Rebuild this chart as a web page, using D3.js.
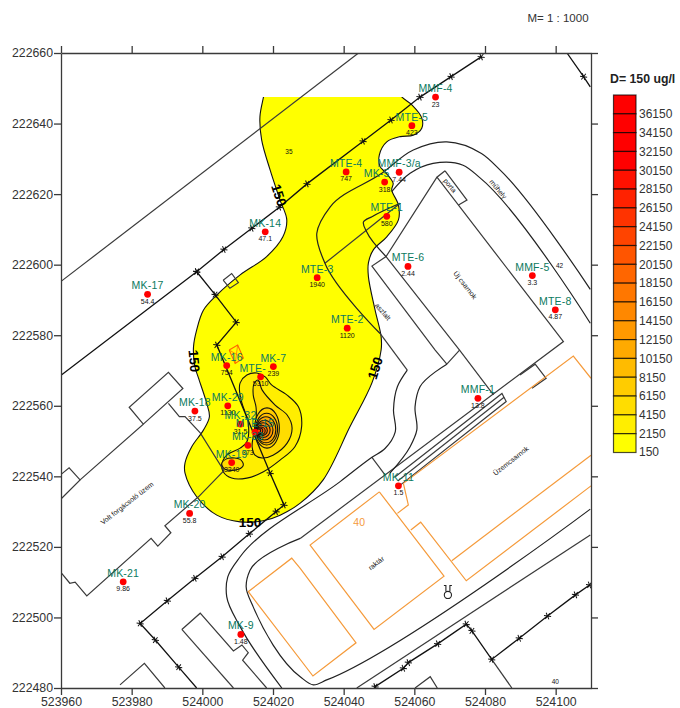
<!DOCTYPE html>
<html>
<head>
<meta charset="utf-8">
<script src="https://cdn.jsdelivr.net/npm/d3@7"></script>
<style>
  html, body { margin: 0; background: #fff; }
  svg { display: block; font-family: "Liberation Sans", Arial, sans-serif; }
</style>
</head>
<body>
<div id="chart"></div>
<script>
/* Map data: all geometry in metres east / north of the SW corner */
const E0 = 523960, N0 = 222480;

const xTicks = [523960, 523980, 524000, 524020, 524040, 524060, 524080, 524100];
const yTicks = [222480, 222500, 222520, 222540, 222560, 222580, 222600, 222620, 222640, 222660];

/* Legend levels, ug/l */
const levels = [36150, 34150, 32150, 30150, 28150, 26150, 24150, 22150, 20150, 18150,
                16150, 14150, 12150, 10150, 8150, 6150, 4150, 2150, 150];

/* Wells: name, easting, northing, measured value */
const wellNames = ['MK-17','MK-14','MTE-3','MTE-2','MTE-4','MTE-5','MMF-4','MMF-3/a','MK-5','MTE-1','MTE-6','MMF-5','MTE-8',
  'MK-16','MK-7','MTE-','MK-29','MK-18','MK-32','MTE-15','MK-33','MK-19','MK-20','MK-21','MK-9','MK-11','MMF-1'];
const wellE = [523984.5,524017.8,524032.5,524041.0,524040.7,524059.3,524066.0,524055.7,524051.6,524052.2,524058.2,524093.4,524099.9,
  524006.9,524020.1,524016.5,524007.2,523997.9,524010.8,524014.9,524012.9,524008.3,523996.4,523977.6,524010.9,524055.5,524078.0];
const wellN = [222591.6,222609.3,222596.3,222582.0,222626.3,222639.4,222647.5,222626.2,222623.4,222613.7,222599.5,222596.9,222587.2,
  222571.4,222571.1,222568.2,222560.0,222558.5,222554.8,222552.5,222548.8,222543.9,222529.5,222510.1,222495.2,222537.3,222562.1];
const wellValues = ['54.4','47.1','1940','1120','747','423','23','7.44','318','580','2.44','3.3','4.87',
  '754','239','5310','1130','37.5','31.5','','373','3240','55.8','9.86','1.48','1.5','13.8'];

/* Isolines: [level, points] */
const contour150 = [[58,170.9],[94,170.9],[96.5,167.5],[99.3,165.3],[102.1,161.6],[102.1,158.7],[99.7,156.7],[96,156.3],[92.2,154.8],[90.1,151.1],
  [90.3,147.8],[91.7,146.3],[94,143.1],[93.6,141.2],[95.5,136.9],[95.5,132.7],[92.2,127.9],[88.4,124.2],[87,120.5],[87,116.6],[88.9,107.1],
  [90.6,99.6],[90.6,95.8],[88,86.5],[81.8,74.1],[74.2,59],[67.7,52.4],[62,49],[57.2,47.4],[50.7,47.1],[44.1,49],[38.4,54.2],[35.1,60.9],
  [35.1,63.8],[37,68.4],[40.3,73.1],[42,76.9],[41.2,80.8],[38.9,87.9],[37.9,91.1],[37.5,96.7],[38.4,101.5],[40.3,107.1],[44.1,111.4],
  [50.7,117.1],[58.2,122.3],[62.8,127.9],[63.9,132.7],[62,138.3],[59.2,146.8],[56.8,155.3],[56.3,161.9],[57.3,167.5]];
const contour2150 = [[50.7,86.5],[52.6,88.7],[55.4,89.3],[57.8,88.2],[59.6,85.9],[63.9,83.1],[67.2,79.7],[68.1,74.1],[66.2,68.4],[62,64.6],
  [57.3,61.3],[52.6,59.5],[48.3,59.5],[45.9,61.3],[45.5,63.2],[46.9,66],[50.7,68],[52.6,69.8],[53,75.1],[51.2,80.8],[50.5,84.5]];
const contour4150 = [[55.8,87.3],[56.9,84.5],[60.6,80.2],[64,77.4],[65.4,73.7],[64,69.4],[60,66],[56.9,65.2],[54.9,66],[54.1,68.3],
  [54.4,71.4],[55.2,76],[55.2,79.6],[54.4,83.1],[54.6,86.2]];
const contour4150b = [[45.5,63.7],[47.4,65.1],[50.7,64.8],[51.6,63.2],[50.2,62],[46.4,62]];

/* The cone round the hot well: level, centre e, centre n, radius e, radius n */
const cone = [[6150,58.3,73.7,3.5,5.7],[8150,58.2,73.4,3.1,4.5],[10150,58,73.2,2.8,3.7],[12150,57.6,73.1,2.4,2.8],[14150,57.2,73.1,2,2.1],
  [16150,56.8,73,1.6,1.5],[18150,56.5,72.9,1.3,1.1],[20150,56.2,72.9,.9,.8],[22150,56,72.9,.5,.5]];

/* Fences, third value marks a post */
const fenceMain = [[118.9,178.9,1],[110.4,173.3,1],[101.6,167.5,1],[93.4,161,1],[85.5,155,1],[69.6,142.9,1],[61.8,136.3,1],[54,130.3,1],[46.1,124.3,1],[38.4,118,1],[.1,88.7]];
const fenceBranch = [[38.4,118,1],[43.6,111.5,1],[49.6,103.7,1],[44.1,97.2,1],[54.9,71.2],[59.2,60.9,1],[63.1,51.9,1],[60.9,50,1],[53.3,43.7,1],[45.6,37.2,1],
  [37.9,31.1,1],[30.1,24.7,1],[22.4,18.3,1],[26.7,13.6,1],[33.3,5.9,1],[38.4,0]];
const fenceNE = [[143.2,180],[147.9,173.3,1],[149.8,170.4]];
const fenceSE = [[88.9,.4,1],[96.9,5.6,1],[98.3,7.2,1],[106.6,12.5,1],[114.7,18.1,1],[116.3,16.2,1],[121.9,8.1,1],[129.7,14.1,1],[137.7,20.4,1],[145.6,26.4,1],[149.6,29.2,1]];

/* Straight map lines */
const mapLines = [
  [[121.9,8.1],[127.6,0]],
  [[.2,115.4],[84.2,180]],
  [[.2,53.8],[5.4,59],[2.3,62.4],[.2,60.7]],
  [[5.4,59],[23.3,74.8],[19.3,79.6],[30.4,89.5],[34.5,84.9],[23.3,74.8]],
  [[30.4,80.7],[33.5,76.9],[35.1,76.9],[39.4,72.3],[46.1,61.6],[38.9,54.2],[29.4,46],[31.1,44],[27.4,40.2],[25.5,42.4],[7.3,26.1],[4,30],[2.5,29.7],[.2,32.5]],
  [[45.9,115.6],[48.3,117.5],[50.2,114.9],[47.8,113.3],[45.9,115.6]],
  [[16.7,.9],[23.6,7],[29.4,0]],
  [[34.2,16.6],[48.8,0]],
  [[34.2,16.6],[39.4,21.2],[48.8,10.5],[51.2,12.2],[53,10],[51.4,7.9],[58.2,0]],
  [[90.3,100.5],[98,90.1]],
  [[88,65.4],[91.7,60.4]],
  [[83.7,0],[149.8,43.4]],
  [[96,137.4],[74.7,120.4]],
  [[108.7,146.6],[114.9,138.3],[112.5,136.9]],
  [[108.7,146.6],[106.4,144.8],[142.2,98.2],[67.7,42.4]],
  [[106.4,144.8],[92,122.3],[88,119.6],[105.9,95.8],[109.2,91.8],[112.8,95.8]],
  [[92,122.3],[112.8,95.8],[122.4,83.1]],
  [[94.6,59.9],[124.8,83.5],[126,81.2],[96,57.5]],
  [[95.3,58.7],[125.4,82.4]],
  [[129.9,88.7],[134.2,91.8],[137.3,87.8],[133.3,85]],
  [[100.2,0],[104.5,3.2],[106.5,0]]
];

/* Curved road edges */
const roads = [
  [[149.8,113],[124.3,146.8],[119,151.5],[109.2,154.8],[99.7,152.5],[90.8,145.9],[76.2,136.4],[72.4,128.9],[74.7,120.4],[90.3,100.5]],
  [[98,90.1],[95.2,85.4],[94.1,78.8],[94.6,72.6],[91.7,67.9],[88,65.4],[79,58.5],[50.7,37.2],[47.2,31.5],[46.9,25.9],[50.7,17.4],[62.5,0]],
  [[149.8,103.4],[118.6,144.6],[113.8,148.2],[105.3,148.7],[98.8,145.9],[93.6,140.7]],
  [[96,137.4],[88,133.6],[85.6,132.1],[86.5,129.3],[92,122.3]],
  [[109.2,91.8],[101.6,85.4],[100.2,79.7],[100.7,73.1],[98.8,68.4],[93.1,60.9]],
  [[67.7,42.4],[53.5,33.4],[52.4,28.7],[54.4,23],[67.7,3.2],[71.4,.9],[75.2,2.3],[149.8,50.7]]
];

/* Orange building outlines */
const orangeLines = [
  [[96.9,58],[145,94.1],[150,87.8]],
  [[96.9,58],[98.3,51.9],[95.2,49.5]],
  [[90.1,55.6],[70.5,40.5],[88.6,16.6],[108.4,31.7],[90.1,55.6]],
  [[99,44.8],[101.8,47],[114.7,30.4],[150,57.3]],
  [[110.6,36.1],[150,66]],
  [[67.7,33.9],[83.5,12.8],[71.3,3.4],[53,27.3],[65.3,36.8],[67.7,33.9]]
];
const redRect = [[47.6,95.8],[50,97.2],[51.6,93.5],[49.3,92],[47.6,95.8]];
const redRectCross = [[[47.6,95.8],[51.6,93.5]],[[50,97.2],[49.3,92]]];

/* Map texts: text, e, n, angle */
const placeNames = [['Volt forgácsoló üzem',18.7,52.4,-38],['Új csarnok',114.4,114.2,52],['műhely',123.7,141.4,50],['raktár',89.2,35.4,-38],
  ['Üzemcsarnok',127.3,64.4,-38],['aszfalt',91.1,106.7,50],['porta',110.1,142.4,50],['35',64.5,152.1,0],['42',141.1,119.6,0],['40',139.9,1.7,0]];
const contourLabels = [[61.7,139.7,72],[37.7,92.7,85],[88.9,90.7,-72],[53.5,47.1,0]];
const orangeLabel = [84.4,47.1];
const hydrant = [109.5,26.8];

const margin = { top: 53, right: 89, bottom: 20, left: 61 };
const width = 680, height = 708;

const x = d3.scaleLinear().domain([523960, 524110]).range([margin.left, width - margin.right]);
const y = d3.scaleLinear().domain([222480, 222660]).range([height - margin.bottom, margin.top]);

/* Colours run from yellow to pure red at the 30150 level */
const color = d3.scaleLinear().domain([150, 30150]).range(['#ffff00', '#ff0000']).clamp(true);

const px = d => x(E0 + d[0]);
const py = d => y(N0 + d[1]);

const straight = d3.line().x(px).y(py);
const smooth = d3.line().x(px).y(py).curve(d3.curveCatmullRom.alpha(0.9));
const closed = d3.line().x(px).y(py).curve(d3.curveCatmullRomClosed.alpha(0.5));

const svg = d3.select('#chart').append('svg').attr('width', width).attr('height', height);

svg.append('clipPath').attr('id', 'plot').append('rect')
  .attr('x', x.range()[0]).attr('y', y.range()[1])
  .attr('width', x.range()[1] - x.range()[0]).attr('height', y.range()[0] - y.range()[1]);
/* The grid of the model stops north of the last wells */
svg.append('clipPath').attr('id', 'model').append('rect')
  .attr('x', x.range()[0]).attr('y', py([0, 167.5]))
  .attr('width', x.range()[1] - x.range()[0]).attr('height', y.range()[0] - py([0, 167.5]));

const map = svg.append('g').attr('clip-path', 'url(#plot)');

/* Plume */
const plume = map.append('g').attr('clip-path', 'url(#model)').attr('stroke', '#111').attr('stroke-width', 1.1);
plume.append('path').attr('d', closed(contour150)).attr('fill', color(150));
plume.append('path').attr('d', closed(contour2150)).attr('fill', color(2150));
plume.append('path').attr('d', closed(contour4150)).attr('fill', color(4150));
plume.append('path').attr('d', closed(contour4150b)).attr('fill', color(4150));
plume.selectAll('ellipse').data(cone).join('ellipse')
  .attr('cx', d => px([d[1], 0]))
  .attr('cy', d => py([0, d[2]]))
  .attr('rx', d => px([d[1] + d[3], 0]) - px([d[1], 0]))
  .attr('ry', d => py([0, d[2]]) - py([0, d[2] + d[4]]))
  .attr('fill', d => color(d[0]));

/* Base map */
map.append('g').selectAll('path').data(mapLines).join('path')
  .attr('d', straight).attr('fill', 'none').attr('stroke', '#3a3a3a').attr('stroke-width', 1.2);
map.append('g').selectAll('path').data(roads).join('path')
  .attr('d', smooth).attr('fill', 'none').attr('stroke', '#222').attr('stroke-width', 1.2);
map.append('g').selectAll('path').data(orangeLines).join('path')
  .attr('d', straight).attr('fill', 'none').attr('stroke', '#f59a3a').attr('stroke-width', 1.2);
map.append('path').attr('d', straight(redRect)).attr('fill', 'none').attr('stroke', '#f60').attr('stroke-width', 1.1);
map.append('g').selectAll('path').data(redRectCross).join('path')
  .attr('d', straight).attr('fill', 'none').attr('stroke', '#f60').attr('stroke-width', .7);

const fences = [fenceMain, fenceBranch, fenceNE, fenceSE];
map.append('g').selectAll('path').data(fences).join('path')
  .attr('d', straight).attr('fill', 'none').attr('stroke', '#111').attr('stroke-width', 1.3);
const star = d3.symbol().type(d3.symbolAsterisk).size(36);
map.append('g').selectAll('path').data(fences.flat().filter(d => d[2])).join('path')
  .attr('transform', d => `translate(${px(d)},${py(d)}) rotate(38)`)
  .attr('d', star).attr('fill', 'none').attr('stroke', '#111').attr('stroke-width', 1);

/* Hydrant sign */
const sign = map.append('g').attr('transform', `translate(${px(hydrant)},${py(hydrant)})`)
  .attr('fill', 'none').attr('stroke', '#222').attr('stroke-width', 1.1);
sign.append('circle').attr('cy', 1.5).attr('r', 3.6);
sign.append('path').attr('d', 'M-4,-8 H-2 V-2 M4,-8 H2 V-2');

/* Texts on the map */
map.append('g').selectAll('text').data(placeNames).join('text')
  .attr('transform', d => `translate(${px([d[1], 0])},${py([0, d[2]])}) rotate(${d[3]})`)
  .attr('text-anchor', 'middle').attr('dy', '.35em')
  .attr('font-size', d => d[3] ? 7 : 6.5).attr('fill', '#111')
  .text(d => d[0]);
map.append('text').attr('x', px(orangeLabel)).attr('y', py(orangeLabel)).attr('dy', '.35em')
  .attr('text-anchor', 'middle').attr('font-size', 10.5).attr('fill', '#f59a3a').text('40');
map.append('g').selectAll('text').data(contourLabels).join('text')
  .attr('transform', d => `translate(${px(d)},${py(d)}) rotate(${d[2]})`)
  .attr('text-anchor', 'middle').attr('dy', '.35em')
  .attr('font-size', 13.5).attr('font-weight', 'bold').attr('fill', '#000')
  .text(150);

/* Wells */
const wells = wellNames.map((name, i) => ({ name, e: wellE[i], n: wellN[i], value: wellValues[i] }));
const well = svg.append('g').selectAll('g').data(wells).join('g')
  .attr('transform', d => `translate(${x(d.e)},${y(d.n)})`);
well.append('circle').attr('r', 3.4).attr('fill', '#f00');
well.append('text')
  .attr('x', d => d.name === 'MK-5' ? -8 : d.name === 'MTE-' ? -8 : 0)
  .attr('y', -5).attr('text-anchor', 'middle')
  .attr('font-size', 10.5).attr('letter-spacing', .2).attr('fill', '#0b7a60')
  .text(d => d.name);
well.append('text').attr('y', 9.5).attr('text-anchor', 'middle')
  .attr('font-size', 7).attr('fill', '#111')
  .text(d => d.value);

/* Axes */
const gAxes = svg.append('g');
const left = gAxes.append('g').attr('transform', `translate(${x.range()[0]},0)`)
  .call(d3.axisLeft(y).tickValues(yTicks).tickFormat(d3.format('d')).tickSize(7).tickSizeOuter(0));
const right = gAxes.append('g').attr('transform', `translate(${x.range()[1]},0)`)
  .call(d3.axisRight(y).tickValues(yTicks).tickFormat('').tickSize(7).tickSizeOuter(0));
const bottom = gAxes.append('g').attr('transform', `translate(0,${y.range()[0]})`)
  .call(d3.axisBottom(x).tickValues(xTicks).tickFormat(d3.format('d')).tickSize(7).tickSizeOuter(0));
const top_ = gAxes.append('g').attr('transform', `translate(0,${y.range()[1]})`)
  .call(d3.axisTop(x).tickValues(xTicks).tickFormat('').tickSize(7).tickSizeOuter(0));
gAxes.selectAll('.domain, .tick line').attr('stroke', '#3a3a3a').attr('stroke-width', 1.3);
gAxes.selectAll('.tick text').attr('font-size', 12.3).attr('font-family', '"Liberation Sans", Arial, sans-serif').attr('fill', '#333');
left.selectAll('.tick text').attr('x', -8);
bottom.selectAll('.tick text').attr('y', 9);

/* Scale note */
svg.append('text').attr('x', 558).attr('y', 22).attr('text-anchor', 'middle')
  .attr('font-size', 11.5).attr('fill', '#333').text('M= 1 : 1000');

/* Legend */
const legendY = d3.scaleBand().domain(levels).range([95, 452.5]);
const legend = svg.append('g');
legend.append('text').attr('x', 610).attr('y', 83)
  .attr('font-size', 12.3).attr('font-weight', 'bold').attr('fill', '#222').text('D= 150 ug/l');
legend.selectAll('rect').data(levels).join('rect')
  .attr('x', 613.5).attr('y', d => legendY(d))
  .attr('width', 22.5).attr('height', legendY.bandwidth())
  .attr('fill', d => color(d)).attr('stroke', '#000').attr('stroke-opacity', .7).attr('stroke-width', 1.2);
legend.selectAll('text.level').data(levels).join('text').attr('class', 'level')
  .attr('x', 639).attr('y', d => legendY(d) + legendY.bandwidth() - (d === 150 ? 1 : 0))
  .attr('dy', '.36em').attr('font-size', 12).attr('fill', '#333')
  .text(d => d);
</script>
</body>
</html>
